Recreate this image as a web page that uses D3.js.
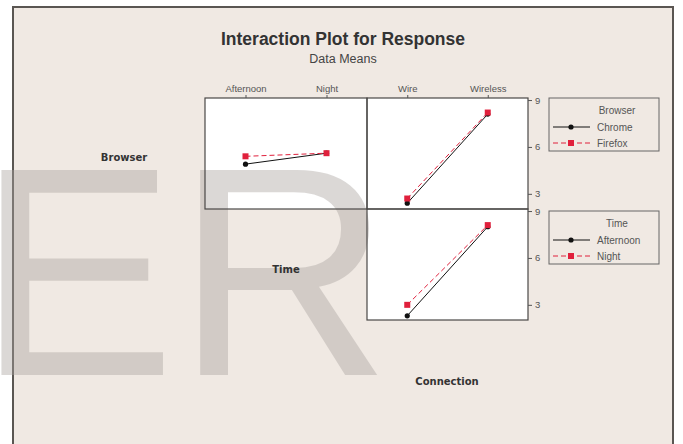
<!DOCTYPE html>
<html>
<head>
<meta charset="utf-8">
<script src="https://cdn.jsdelivr.net/npm/d3@7.9.0/dist/d3.min.js"></script>
<style>
  body { margin: 0; background: #fff; }
  svg { display: block; }
</style>
</head>
<body>
<svg id="chart" width="683" height="444"></svg>
<script>
// factor levels
const browserLevels = ['Chrome', 'Firefox'];
const timeLevels = ['Afternoon', 'Night'];
const connLevels = ['Wire', 'Wireless'];
const yTicks = [3, 6, 9];

// data means
const chromeByTime = [4.9, 5.6];
const firefoxByTime = [5.4, 5.6];
const chromeByConn = [2.4, 8.1];
const firefoxByConn = [2.7, 8.2];
const afternoonByConn = [2.3, 8.0];
const nightByConn = [3.0, 8.1];

const svg = d3.select('#chart');
const sans = 'Liberation Sans, Arial, sans-serif';

// outer frame
svg.append('rect')
    .attr('x', 13).attr('y', 7)
    .attr('width', 660).attr('height', 450)
    .attr('fill', '#f0e9e3')
    .attr('stroke', '#5a5652')
    .attr('stroke-width', 2);

const colX = [43, 205, 367, 528];
const rowY = [98, 209, 320, 431];

let y = d3.scaleLinear().domain([2.03, 9.13]);
let xTime = d3.scalePoint().domain(timeLevels).range([colX[1], colX[2]]).padding(0.5);
let xConn = d3.scalePoint().domain(connLevels).range([colX[2], colX[3]]).padding(0.5);

// panel backgrounds
const panels = [
    { row: 0, x: xTime, series: [chromeByTime, firefoxByTime] },
    { row: 0, x: xConn, series: [chromeByConn, firefoxByConn] },
    { row: 1, x: xConn, series: [afternoonByConn, nightByConn] }
];
panels.forEach(p => {
    const r = p.x.range();
    svg.append('rect')
        .attr('x', r[0]).attr('y', rowY[p.row])
        .attr('width', r[1] - r[0]).attr('height', rowY[p.row + 1] - rowY[p.row])
        .attr('fill', '#fff');
});

// watermark
svg.append('text')
    .attr('x', -23).attr('y', 375)
    .attr('font-family', sans)
    .attr('font-size', 298)
    .attr('fill', 'rgb(170,164,160)')
    .attr('opacity', 0.42)
    .text('ER');

// panel borders
panels.forEach(p => {
    const r = p.x.range();
    svg.append('rect')
        .attr('x', r[0]).attr('y', rowY[p.row])
        .attr('width', r[1] - r[0]).attr('height', rowY[p.row + 1] - rowY[p.row])
        .attr('fill', 'none')
        .attr('stroke', '#4a4846')
        .attr('stroke-width', 1.2);
});

const colors = ['#111', '#e0203c'];
const dashes = [null, '5,3'];

panels.forEach(p => {
    const yr = y.copy().range([rowY[p.row + 1], rowY[p.row]]);
    const lv = p.x.domain();
    p.series.forEach((vals, i) => {
        const line = d3.line().x((d, j) => p.x(lv[j])).y(d => yr(d));
        svg.append('path')
            .attr('d', line(vals))
            .attr('fill', 'none')
            .attr('stroke', colors[i])
            .attr('stroke-width', 1)
            .attr('stroke-dasharray', dashes[i]);
    });
    // markers, red on top
    p.series.forEach((vals, i) => {
        vals.forEach((v, j) => {
            if (i === 0) {
                svg.append('circle')
                    .attr('cx', p.x(lv[j])).attr('cy', yr(v))
                    .attr('r', 2.6).attr('fill', colors[i]);
            } else {
                svg.append('rect')
                    .attr('x', p.x(lv[j]) - 3).attr('y', yr(v) - 3)
                    .attr('width', 6).attr('height', 6)
                    .attr('fill', colors[i]);
            }
        });
    });
});

// top axes
[xTime, xConn].forEach(sc => {
    const g = svg.append('g').attr('transform', `translate(0,${rowY[0]})`)
        .call(d3.axisTop(sc).tickSize(3).tickPadding(3).tickSizeOuter(0));
    g.select('.domain').remove();
    g.selectAll('line').attr('stroke', '#555');
    g.selectAll('text')
        .attr('font-family', sans)
        .attr('font-size', 9.5).attr('fill', '#555');
});

// right axes
[0, 1].forEach(row => {
    const yr = y.copy().range([rowY[row + 1], rowY[row]]);
    const g = svg.append('g').attr('transform', `translate(${colX[3]},0)`)
        .call(d3.axisRight(yr).tickValues(yTicks).tickSize(4).tickPadding(3).tickSizeOuter(0));
    g.select('.domain').remove();
    g.selectAll('line').attr('stroke', '#555');
    g.selectAll('text')
        .attr('font-family', sans)
        .attr('font-size', 9.5).attr('fill', '#555');
});

// diagonal factor labels
const diag = [
    { name: 'Browser', x: 124, y: 161 },
    { name: 'Time', x: 286, y: 273 },
    { name: 'Connection', x: 447, y: 385 }
];
diag.forEach(d => {
    svg.append('text')
        .attr('x', d.x).attr('y', d.y)
        .attr('text-anchor', 'middle')
        .attr('font-family', 'DejaVu Sans, sans-serif')
        .attr('font-weight', 'bold')
        .attr('font-size', 10)
        .attr('fill', '#333')
        .text(d.name);
});

// legends
const legends = [
    { title: 'Browser', labels: browserLevels, top: 98 },
    { title: 'Time', labels: timeLevels, top: 211 }
];
legends.forEach(lg => {
    const g = svg.append('g').attr('transform', `translate(549,${lg.top})`);
    g.append('rect')
        .attr('width', 110).attr('height', 53)
        .attr('fill', '#f0e9e3')
        .attr('stroke', '#666').attr('stroke-width', 1);
    g.append('text')
        .attr('x', 68).attr('y', 16)
        .attr('text-anchor', 'middle')
        .attr('font-family', sans)
        .attr('font-size', 10).attr('fill', '#555')
        .text(lg.title);
    lg.labels.forEach((lab, i) => {
        const yy = 29 + i * 16;
        g.append('line')
            .attr('x1', 4).attr('x2', 41).attr('y1', yy).attr('y2', yy)
            .attr('stroke', colors[i]).attr('stroke-width', 1)
            .attr('stroke-dasharray', dashes[i]);
        if (i === 0) {
            g.append('circle').attr('cx', 22).attr('cy', yy).attr('r', 2.6).attr('fill', colors[i]);
        } else {
            g.append('rect').attr('x', 19).attr('y', yy - 3).attr('width', 6).attr('height', 6).attr('fill', colors[i]);
        }
        g.append('text')
            .attr('x', 48).attr('y', yy + 3.5)
            .attr('font-family', sans)
            .attr('font-size', 10).attr('fill', '#555')
            .text(lab);
    });
});

// titles
svg.append('text')
    .attr('x', 343).attr('y', 45)
    .attr('text-anchor', 'middle')
    .attr('font-family', sans)
    .attr('font-weight', 'bold')
    .attr('font-size', 17.5)
    .attr('fill', '#333')
    .text('Interaction Plot for Response');
svg.append('text')
    .attr('x', 343).attr('y', 63)
    .attr('text-anchor', 'middle')
    .attr('font-family', sans)
    .attr('font-size', 12.5)
    .attr('fill', '#444')
    .text('Data Means');
</script>
</body>
</html>
